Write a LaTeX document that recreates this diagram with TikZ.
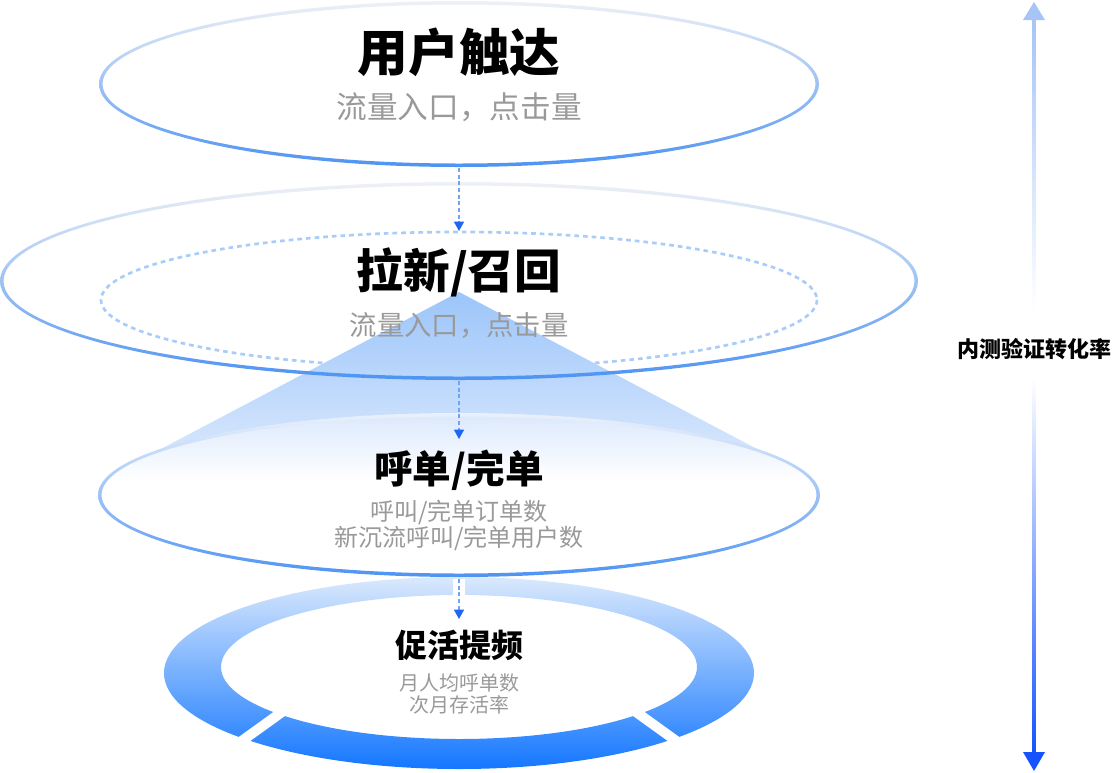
\documentclass[tikz,border=0pt]{standalone}
\usepackage{fontspec}
\setmainfont{Noto Sans CJK SC}
\usetikzlibrary{arrows.meta}
\definecolor{cgray}{HTML}{999999}
\definecolor{cfaint}{HTML}{EEF1F5}
\definecolor{cfaintb}{HTML}{EAF1FB}
\definecolor{cside}{HTML}{A9CCF8}
\definecolor{cbot}{HTML}{4E93F3}
\definecolor{cdashe}{HTML}{A9CCF9}
\definecolor{ctri1}{HTML}{9CC5FA}
\definecolor{ctri2}{HTML}{DCEAFD}
\definecolor{ce3top}{HTML}{DCE9FC}
\definecolor{cring1}{HTML}{DAE9FD}
\definecolor{cring2}{HTML}{7AB2FA}
\definecolor{cring3}{HTML}{1477FF}
\definecolor{cflow}{HTML}{6FA3F6}
\definecolor{cflowtip}{HTML}{1F66F2}
\definecolor{cra1}{HTML}{A6C4F6}
\definecolor{cra2}{HTML}{4F8BF7}
\definecolor{cra3}{HTML}{4A82F8}
\definecolor{cra4}{HTML}{1553FF}
\begin{document}
\begin{tikzpicture}[x=0.75pt,y=-0.75pt,
  ttl/.style={font=\bfseries\fontsize{#1}{#1}\selectfont, text=black, inner sep=0pt},
  sub/.style 2 args={font=\fontsize{#1}{#2}\selectfont, text=cgray, inner sep=0pt, align=center},
  rim/.style={even odd rule, top color=cfaint, middle color=cside, bottom color=cbot},
  flow/.style={draw=cflow, line width=0.9pt, dash pattern=on 3pt off 2pt, -{Triangle[length=7pt,width=7.5pt,color=cflowtip]}},
]
\useasboundingbox (0,0) rectangle (1118,772);

% layer 1
\coordinate (c1) at (459,84);
\shade[rim] (c1) ellipse [x radius=360, y radius=83] (c1) ellipse [x radius=356.5, y radius=79.5];

% layer 2
\coordinate (c2) at (459,281);
\fill[white] (c2) ellipse [x radius=457, y radius=97];
\draw[cdashe, line width=2pt, dash pattern=on 3.5pt off 3pt] (459,300) ellipse [x radius=358, y radius=68];
\shade[top color=ctri1, bottom color=ctri2] (459,292) -- (121,470) -- (797,470) -- cycle;
\shade[rim] (c2) ellipse [x radius=459, y radius=99] (c2) ellipse [x radius=455.5, y radius=95.5];

% layer 3
\coordinate (c3) at (459,495);
\fill[white] (c3) ellipse [x radius=359, y radius=80];
\begin{scope}
\clip (c3) ellipse [x radius=359, y radius=80];
\shade[top color=ce3top, bottom color=white] (100,415) rectangle (818,480);
\end{scope}
\shade[rim, top color=cfaintb] (c3) ellipse [x radius=361, y radius=82] (c3) ellipse [x radius=357.5, y radius=78.5];

% ring
\coordinate (c4) at (459,673);
\shade[even odd rule, top color=cring1, middle color=cring2, bottom color=cring3] (c4) ellipse [x radius=295, y radius=96] (459,667) ellipse [x radius=238, y radius=72];
\draw[white, line width=7.5pt] (300,699) -- (225,753);
\draw[white, line width=7.5pt] (618,699) -- (693,753);
\fill[white] (453,579) rectangle (465,598);

% texts
\node[ttl=38pt] (t1) at (459,52) {用户触达};
\node[sub={23pt}{28pt}] (s1) at (459,107) {流量入口，点击量};
\node[ttl=35pt] (t2) at (459,272) {拉新/召回};
\node[sub={20.5pt}{26pt}] (s2) at (459,325) {流量入口，点击量};
\node[ttl=29pt] (t3) at (459,470) {呼单/完单};
\node[sub={18pt}{19.5pt}] (s3) at (459,525) {呼叫/完单订单数\\新沉流呼叫/完单用户数};
\node[ttl=24pt] (t4) at (459,645) {促活提频};
\node[sub={15pt}{16.5pt}] (s4) at (459,694) {月人均呼单数\\次月存活率};

% flow arrows
\coordinate (a1s) at (459,168); \coordinate (a1e) at (459,231);
\coordinate (a2s) at (459,381); \coordinate (a2e) at (459,439);
\coordinate (a3s) at (459,579); \coordinate (a3e) at (459,619);
\draw[flow] (a1s) -- (a1e);
\draw[flow] (a2s) -- (a2e);
\draw[flow] (a3s) -- (a3e);

% right scale arrow
\node[ttl=16.5pt] (lbl) at (1034,349) {内测验证转化率};
\coordinate (rtop) at (1034,2);
\coordinate (rbot) at (1034,771);
\shade[top color=cra1, middle color=cra2, bottom color=white] (1032.4,18) rectangle (1035.6,312);
\fill[cra1] (rtop) -- (1045,20) -- (1023,20) -- cycle;
\shade[top color=white, middle color=cra3, bottom color=cra4] (1032.4,378) rectangle (1035.6,754);
\fill[cra4] (rbot) -- (1023,752) -- (1045,752) -- cycle;
\end{tikzpicture}
\end{document}
